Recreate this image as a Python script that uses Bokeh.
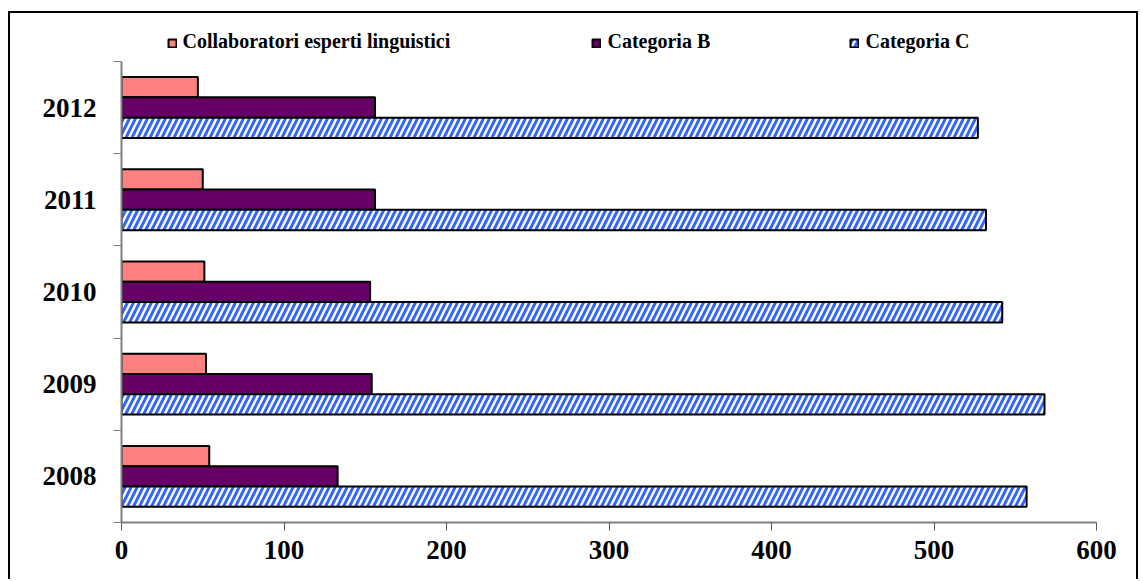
from bokeh.plotting import figure
from bokeh.models import (ColumnDataSource, FixedTicker, LinearAxis, Legend, LegendItem,
                          Label, Range1d, CustomJSTickFormatter)
from bokeh.transform import dodge
from bokeh.embed import file_html
from bokeh.resources import INLINE

# --- data -------------------------------------------------------------
years = ["2008", "2009", "2010", "2011", "2012"]
cel = [54, 52, 51, 50, 47]            # Collaboratori esperti linguistici
cat_b = [133, 154, 153, 156, 156]     # Categoria B
cat_c = [557, 568, 542, 532, 527]     # Categoria C
series_names = ["Collaboratori esperti linguistici", "Categoria B", "Categoria C"]
x_ticks = [0, 100, 200, 300, 400, 500, 600]

# --- styling -------------------------------------------------------------
FONT = "Times New Roman"
PINK = "#FF8080"
PURPLE = "#660066"
BLUE = "#3366FF"
AXIS_GREY = "#808080"
BAR_H = 0.22
TOP_ROOM = 0.4   # headroom inside the frame for the legend strip

pos = [i + 0.5 for i in range(len(years))]
src = ColumnDataSource(dict(pos=pos, year=years, cel=cel, b=cat_b, c=cat_c))

W, H = 1130, 568
p = figure(width=W, height=H,
           x_range=Range1d(0, 600), y_range=Range1d(0, len(years) + TOP_ROOM),
           output_backend="svg", toolbar_location=None,
           min_border_left=111, min_border_right=44,
           min_border_top=11, min_border_bottom=59)
p.margin = (11, 0, 0, 8)
p.styles = {"border-left": "2px solid black",
            "border-top": "2px solid black",
            "border-right": "2px solid black"}
p.outline_line_color = None
p.xgrid.visible = False
p.ygrid.visible = False
p.background_fill_color = "white"
p.border_fill_color = "white"

# --- bars ----------------------------------------------------------------
r_cel = p.hbar(y=dodge("pos", BAR_H, range=None), right="cel", left=0, height=BAR_H,
               source=src, fill_color=PINK, line_color="black", line_width=2)
r_b = p.hbar(y="pos", right="b", left=0, height=BAR_H,
             source=src, fill_color=PURPLE, line_color="black", line_width=2)
r_c = p.hbar(y=dodge("pos", -BAR_H, range=None), right="c", left=0, height=BAR_H,
             source=src, fill_color="white", hatch_pattern="/", hatch_color=BLUE,
             hatch_weight=3, hatch_scale=12,
             line_color="black", line_width=2)

# --- x axis ----------------------------------------------------------------
xa = p.xaxis[0]
xa.ticker = FixedTicker(ticks=x_ticks)
xa.axis_line_color = AXIS_GREY
xa.axis_line_width = 2
xa.major_tick_line_color = "#555555"
xa.major_tick_in = 0
xa.major_tick_out = 8
xa.minor_tick_line_color = None
xa.major_label_standoff = 10
xa.major_label_text_font = FONT
xa.major_label_text_font_style = "bold"
xa.major_label_text_font_size = "27px"
xa.major_label_text_color = "black"

# --- y axis: boundary ticks next to the plot area --------------------------
ya = p.yaxis[0]
ya.ticker = FixedTicker(ticks=list(range(len(years) + 1)))
ya.formatter = CustomJSTickFormatter(code="return ''")
ya.bounds = (0, len(years))
ya.axis_line_color = AXIS_GREY
ya.axis_line_width = 2
ya.major_tick_line_color = AXIS_GREY
ya.major_tick_in = 0
ya.major_tick_out = 8
ya.minor_tick_line_color = None
ya.major_label_standoff = 0

# --- y axis: year labels centred on each group --------------------------
year_axis = LinearAxis(
    ticker=FixedTicker(ticks=pos),
    formatter=CustomJSTickFormatter(args=dict(names=years),
                                    code="return names[Math.floor(tick)] || ''"),
    bounds=(0, len(years)),
    axis_line_color=None, major_tick_line_color=None, minor_tick_line_color=None,
    major_tick_in=0, major_tick_out=0, major_label_standoff=17,
    major_label_text_font=FONT, major_label_text_font_style="bold",
    major_label_text_font_size="27px", major_label_text_color="black")
p.add_layout(year_axis, "left")

# --- legend strip: swatches plus serif captions -------------------------------
LEGEND_BOTTOM = 474             # px above the plot-area bottom
swatch_x = [46, 470, 728]        # px from the plot-area left edge
caption_x = [61, 486, 744]
caption_baseline = 482

for renderer, sx in zip([r_cel, r_b, r_c], swatch_x):
    swatch = Legend(items=[LegendItem(label=" ", renderers=[renderer])],
                    location=(sx, LEGEND_BOTTOM),
                    glyph_width=10, glyph_height=10, label_standoff=0,
                    label_width=0, padding=0, margin=0,
                    border_line_color=None, background_fill_alpha=0,
                    label_text_font_size="20px")
    p.add_layout(swatch, "center")

for name, cx in zip(series_names, caption_x):
    p.add_layout(Label(x=cx, y=caption_baseline, x_units="screen", y_units="screen",
                       text=name, text_font=FONT, text_font_style="bold",
                       text_font_size="20px", text_color="black",
                       text_align="left", text_baseline="alphabetic"))

open("out.html", "w").write(file_html(p, INLINE))
